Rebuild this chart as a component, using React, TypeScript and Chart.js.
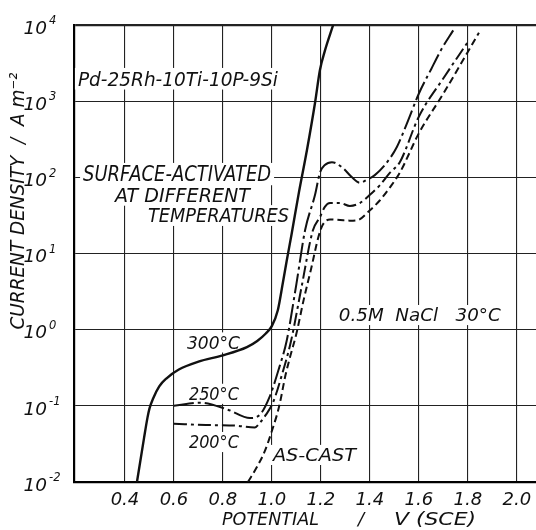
import React, { useEffect, useRef } from "react";
import { Chart, registerables } from "chart.js";

Chart.register(...registerables);

// ---------- axis ticks ----------
const X_TICKS = [0.4, 0.6, 0.8, 1.0, 1.2, 1.4, 1.6, 1.8, 2.0];
const X_TICK_LABELS = ["0.4", "0.6", "0.8", "1.0", "1.2", "1.4", "1.6", "1.8", "2.0"];
const Y_TICKS = [0.01, 0.1, 1, 10, 100, 1000, 10000];
const Y_TICK_EXPONENTS = ["-2", "-1", "0", "1", "2", "3", "4"];

// ---------- series (potential V vs SCE, current density A m^-2) ----------
const potential300 = [0.449, 0.478, 0.492, 0.5, 0.515, 0.54, 0.57, 0.62, 0.7, 0.8, 0.898, 0.94, 0.975, 1.0, 1.024, 1.045, 1.06, 1.08, 1.11, 1.143, 1.176, 1.196, 1.216, 1.25];
const current300 = [0.01, 0.038, 0.07, 0.092, 0.125, 0.18, 0.23, 0.3, 0.38, 0.46, 0.59, 0.71, 0.89, 1.12, 1.8, 4.2, 7.9, 17.8, 63, 229, 955, 2570, 4570, 10000];

const potential250 = [0.6, 0.71, 0.82, 0.91, 0.95, 0.99, 1.03, 1.06, 1.1, 1.135, 1.176, 1.196, 1.216, 1.245, 1.29, 1.327, 1.359, 1.388, 1.42, 1.461, 1.51, 1.55, 1.6, 1.65, 1.69, 1.74];
const current250 = [0.1, 0.11, 0.089, 0.069, 0.076, 0.13, 0.32, 0.71, 4.0, 20, 59, 115, 145, 158, 132, 100, 85, 93, 107, 145, 250, 500, 1260, 2630, 4680, 8500];

const potential200 = [0.6, 0.73, 0.85, 0.93, 0.951, 0.975, 1.004, 1.04, 1.078, 1.12, 1.167, 1.196, 1.216, 1.237, 1.278, 1.318, 1.359, 1.4, 1.441, 1.482, 1.522, 1.6, 1.7, 1.8];
const current200 = [0.058, 0.056, 0.055, 0.052, 0.06, 0.076, 0.11, 0.25, 0.71, 3.5, 20, 30, 41, 46, 46, 42, 46, 59, 79, 115, 158, 630, 2000, 6000];

const potentialAsCast = [0.902, 0.94, 0.97, 1.0, 1.03, 1.055, 1.075, 1.1, 1.13, 1.16, 1.19, 1.208, 1.237, 1.278, 1.318, 1.351, 1.4, 1.441, 1.482, 1.522, 1.6, 1.7, 1.845];
const currentAsCast = [0.01, 0.016, 0.025, 0.047, 0.1, 0.25, 0.45, 0.89, 2.5, 6.3, 16.6, 24, 28, 27.5, 27, 27.5, 37, 50, 74, 115, 380, 1260, 7900];

// ---------- text ----------
const NOTE_TEXTS = [
  "Pd-25Rh-10Ti-10P-9Si",
  "SURFACE-ACTIVATED",
  "AT DIFFERENT",
  "TEMPERATURES",
  "300°C",
  "250°C",
  "200°C",
  "AS-CAST",
  "0.5M  NaCl   30°C",
];
const Y_TITLE = "CURRENT DENSITY  /  A m⁻²";
const X_TITLE_PARTS = ["POTENTIAL", "/", "V (SCE)"];

// label anchors in data coordinates [potential, current] + size/width styling
const NOTE_LAYOUT = [
  { at: [0.208, 2000], size: 20, width: 200 },
  { at: [0.229, 112], size: 21, width: 188 },
  { at: [0.359, 59], size: 19, width: 135 },
  { at: [0.494, 32], size: 19, width: 141 },
  { at: [0.653, 0.69], size: 18, width: 53 },
  { at: [0.661, 0.146], size: 18, width: 50 },
  { at: [0.661, 0.034], size: 18, width: 50 },
  { at: [1.004, 0.023], size: 18, width: 83 },
  { at: [1.273, 1.58], size: 18, width: 162 },
];

const FONT = '"DejaVu Sans", "Liberation Sans", sans-serif';
const CAP = 0.729;
const INK = "#111";

type DrawOpts = { width?: number; align?: "left" | "center" | "right"; bg?: boolean };

function drawText(ctx: CanvasRenderingContext2D, text: string, x: number, yMid: number, size: number, opts: DrawOpts = {}) {
  ctx.save();
  ctx.font = `italic ${size}px ${FONT}`;
  const natural = ctx.measureText(text).width;
  const w = opts.width ?? natural;
  const sx = w / natural;
  let left = x;
  if (opts.align === "center") left = x - w / 2;
  else if (opts.align === "right") left = x - w;
  const cap = size * CAP;
  const base = yMid + cap / 2;
  if (opts.bg) {
    ctx.fillStyle = "#fff";
    ctx.fillRect(left - 3, base - cap - 3, w + 6, cap + 7);
  }
  ctx.translate(left, base);
  ctx.scale(sx, 1);
  ctx.fillStyle = INK;
  ctx.textAlign = "left";
  ctx.textBaseline = "alphabetic";
  ctx.fillText(text, 0, 0);
  ctx.restore();
}

const textPlugin = {
  id: "textPlugin",
  beforeDatasetsDraw(chart: any) {
    const ctx: CanvasRenderingContext2D = chart.ctx;
    const xs = chart.scales.x;
    const ys = chart.scales.y;
    const area = chart.chartArea;

    // annotations with white backgrounds (interrupting grid lines)
    NOTE_TEXTS.forEach((t, i) => {
      const l = NOTE_LAYOUT[i];
      const px = xs.getPixelForValue(l.at[0]);
      const py = ys.getPixelForValue(l.at[1]);
      drawText(ctx, t, px, py, l.size, { width: l.width, bg: true });
    });

    // x tick labels
    xs.ticks.forEach((tk: any, i: number) => {
      const px = xs.getPixelForValue(tk.value);
      drawText(ctx, X_TICK_LABELS[i], px, area.bottom + 16, 18, { align: "center" });
    });

    // y tick labels: 10 with superscript exponent
    ys.ticks.forEach((tk: any, i: number) => {
      const py = ys.getPixelForValue(tk.value);
      drawText(ctx, "10", area.left - 27, py + 2, 18.5, { align: "right" });
      drawText(ctx, Y_TICK_EXPONENTS[i], area.left - 25, py - 5, 11.5, { align: "left" });
    });

    // y title (rotated)
    ctx.save();
    ctx.translate(17, 201);
    ctx.rotate(-Math.PI / 2);
    drawText(ctx, Y_TITLE, 0, 0, 20, { width: 257, align: "center" });
    ctx.restore();

    // x title
    const ty = area.bottom + 36;
    drawText(ctx, X_TITLE_PARTS[0], 222, ty, 18, { width: 97 });
    drawText(ctx, X_TITLE_PARTS[1], 361, ty, 18, { align: "center" });
    drawText(ctx, X_TITLE_PARTS[2], 394, ty, 18, { width: 82 });
  },
};

function toPoints(xs: number[], ys: number[]) {
  return xs.map((x, i) => ({ x, y: ys[i] }));
}

export default function App() {
  const ref = useRef<HTMLCanvasElement | null>(null);

  useEffect(() => {
    document.body.style.margin = "0";
    const canvas = ref.current;
    if (!canvas) return;
    const base = {
      borderColor: INK,
      pointRadius: 0,
      fill: false,
      cubicInterpolationMode: "monotone" as const,
      borderCapStyle: "butt" as const,
    };
    const chart = new Chart(canvas, {
      type: "line",
      data: {
        datasets: [
          { ...base, label: "300°C", data: toPoints(potential300, current300), borderWidth: 2.4 },
          { ...base, label: "250°C", data: toPoints(potential250, current250), borderWidth: 2, borderDash: [20, 4, 3, 4] },
          { ...base, label: "200°C", data: toPoints(potential200, current200), borderWidth: 2, borderDash: [13, 4, 3, 4] },
          { ...base, label: "AS-CAST", data: toPoints(potentialAsCast, currentAsCast), borderWidth: 2, borderDash: [7, 4] },
        ],
      },
      options: {
        animation: false,
        responsive: false,
        maintainAspectRatio: false,
        layout: { padding: { left: 74, top: 25, right: 0, bottom: 48 } },
        plugins: { legend: { display: false }, tooltip: { enabled: false } },
        scales: {
          x: {
            type: "linear",
            min: 0.192,
            max: 2.078,
            bounds: "data",
            afterBuildTicks: (scale: any) => {
              scale.ticks = X_TICKS.map((v) => ({ value: v }));
            },
            ticks: { display: false },
            grid: { color: "#222", lineWidth: 1.1, drawTicks: false },
            border: { display: true, color: "#000", width: 2.2 },
          },
          y: {
            type: "logarithmic",
            min: 0.01,
            max: 10000,
            bounds: "data",
            afterBuildTicks: (scale: any) => {
              scale.ticks = Y_TICKS.map((v) => ({ value: v }));
            },
            ticks: { display: false },
            grid: {
              color: "#222",
              lineWidth: (c: any) => (c.tick && c.tick.value === 10000 ? 2.2 : 1.1),
              drawTicks: false,
            },
            border: { display: true, color: "#000", width: 2.2 },
          },
        },
      },
      plugins: [textPlugin],
    });
    return () => chart.destroy();
  }, []);

  return (
    <div style={{ width: 536, height: 530, background: "#fff" }}>
      <canvas ref={ref} width={536} height={530} style={{ display: "block" }} />
    </div>
  );
}
